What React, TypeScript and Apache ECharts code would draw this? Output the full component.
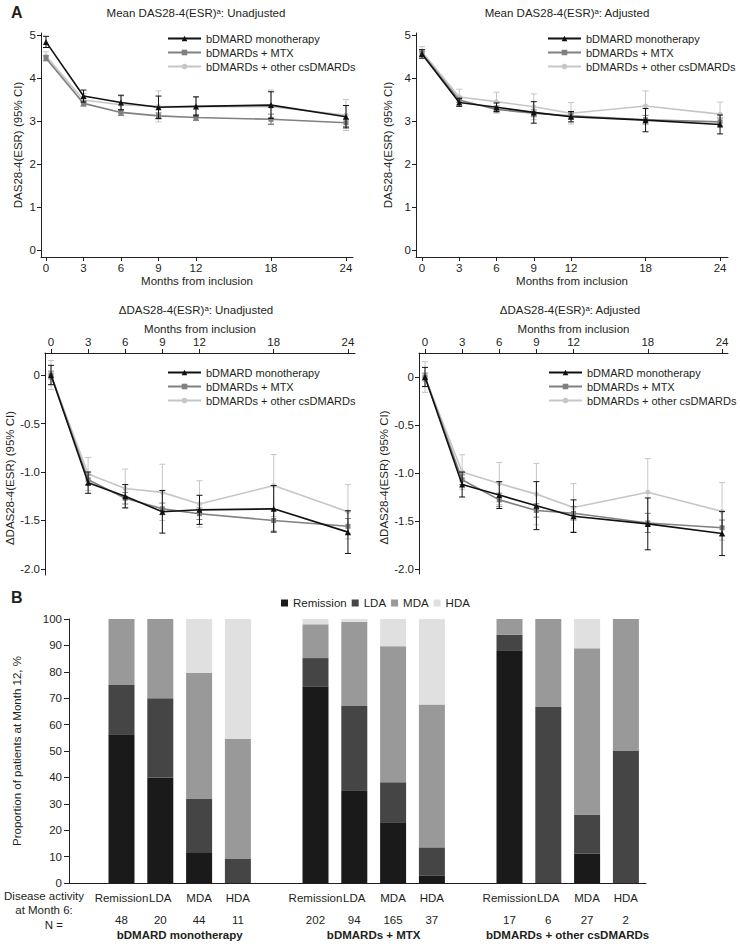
import React, { useEffect, useRef } from "react";
import * as echarts from "echarts";

const FONT = '"Liberation Sans", Arial, Helvetica, sans-serif';
const TXT = "#231f20";

const months = [0, 3, 6, 9, 12, 18, 24];
const seriesNames = ["bDMARD monotherapy", "bDMARDs + MTX", "bDMARDs + other csDMARDs"];

// Mean DAS28-4(ESR), unadjusted
const meanUnadjMono = [4.84, 3.58, 3.43, 3.32, 3.34, 3.37, 3.1];
const meanUnadjMtx = [4.46, 3.41, 3.2, 3.12, 3.08, 3.04, 2.96];
const meanUnadjOther = [4.51, 3.49, 3.38, 3.34, 3.33, 3.33, 3.14];
const ciUnadjMono = [0.13, 0.14, 0.17, 0.26, 0.22, 0.31, 0.26];
const ciUnadjMtx = [0.06, 0.06, 0.07, 0.07, 0.07, 0.12, 0.09];
const ciUnadjOther = [0.1, 0.15, 0.2, 0.36, 0.24, 0.39, 0.36];

// Mean DAS28-4(ESR), adjusted
const meanAdjMono = [4.56, 3.43, 3.32, 3.2, 3.1, 3.02, 2.92];
const meanAdjMtx = [4.57, 3.49, 3.27, 3.18, 3.12, 3.03, 2.98];
const meanAdjOther = [4.61, 3.56, 3.45, 3.33, 3.18, 3.35, 3.16];
const ciAdjMono = [0.1, 0.09, 0.1, 0.25, 0.12, 0.27, 0.22];
const ciAdjMtx = [0.06, 0.06, 0.08, 0.08, 0.07, 0.1, 0.09];
const ciAdjOther = [0.12, 0.18, 0.22, 0.3, 0.25, 0.35, 0.28];

// ΔDAS28-4(ESR), unadjusted
const dUnadjMono = [0, -1.11, -1.25, -1.41, -1.39, -1.38, -1.62];
const dUnadjMtx = [0, -1.08, -1.27, -1.38, -1.43, -1.5, -1.56];
const dUnadjOther = [0, -1.02, -1.17, -1.21, -1.33, -1.14, -1.41];
const dciUnadjMono = [0.1, 0.11, 0.12, 0.22, 0.15, 0.24, 0.22];
const dciUnadjMtx = [0.04, 0.05, 0.06, 0.06, 0.06, 0.11, 0.08];
const dciUnadjOther = [0.15, 0.17, 0.2, 0.29, 0.24, 0.32, 0.28];

// ΔDAS28-4(ESR), adjusted
const dAdjMono = [0, -1.12, -1.23, -1.34, -1.45, -1.53, -1.63];
const dAdjMtx = [0, -1.07, -1.28, -1.39, -1.42, -1.52, -1.57];
const dAdjOther = [0, -0.99, -1.11, -1.22, -1.36, -1.2, -1.4];
const dciAdjMono = [0.1, 0.13, 0.14, 0.25, 0.17, 0.27, 0.23];
const dciAdjMtx = [0.04, 0.05, 0.07, 0.07, 0.07, 0.1, 0.08];
const dciAdjOther = [0.16, 0.18, 0.22, 0.32, 0.25, 0.35, 0.3];

// Panel B (slots: 4 bars, gap, 4 bars, gap, 4 bars)
const barSlots = ["Remission", "LDA", "MDA", "HDA", "", "Remission", "LDA", "MDA", "HDA", "", "Remission", "LDA", "MDA", "HDA"];
const barPositions = [0, 1, 2, 3, 5, 6, 7, 8, 10, 11, 12, 13];
const barN = [48, 20, 44, 11, 202, 94, 165, 37, 17, 6, 27, 2];
const remission = [56.3, 40.0, 11.4, 0, 74.3, 35.1, 23.0, 2.7, 88.2, 0, 11.1, 0];
const lda = [18.7, 30.0, 20.4, 9.1, 10.9, 31.9, 15.2, 10.8, 5.9, 66.7, 14.8, 50];
const mda = [25.0, 30.0, 47.7, 45.4, 12.8, 31.9, 51.5, 54.1, 5.9, 33.3, 63.0, 50];
const hda = [0, 0, 20.5, 45.5, 2.0, 1.1, 10.3, 32.4, 0, 0, 11.1, 0];
const groupPositions = [1.5, 6.5, 11.5];
const groupNames = ["bDMARD monotherapy", "bDMARDs + MTX", "bDMARDs + other csDMARDs"];
const activityNames = ["Remission", "LDA", "MDA", "HDA"];

const lineColors = ["#111111", "#808080", "#c6c6c6"];
const symbols = ["triangle", "rect", "circle"];
const symbolSizes = [6, 5, 5];
const barColors = ["#1a1a1a", "#454545", "#999999", "#e0e0e0"];

export default function App() {
  const ref = useRef<HTMLDivElement>(null);
  useEffect(() => {
    if (!ref.current) return;
    const chart = echarts.init(ref.current, undefined, { renderer: "svg" });

    const grids = [
      { left: 41, top: 33, width: 312, height: 224 },
      { left: 416, top: 33, width: 312, height: 224 },
      { left: 45, top: 353, width: 310, height: 222 },
      { left: 419, top: 353, width: 309, height: 221 },
      { left: 69, top: 619, width: 577, height: 264 },
      { left: 102.1, top: 619, width: 543.2, height: 264 },
    ];
    const xRanges = [
      [-0.4, 24.56],
      [-0.483, 24.64],
      [-0.485, 24.57],
      [-0.485, 24.48],
    ];
    const yRanges = [
      [-0.163, 5.047],
      [-0.163, 5.047],
      [-2.062, 0.227],
      [-2.052, 0.25],
    ];
    const yNameGap = [17, 22, 25, 26];

    const axisLine = { onZero: false, lineStyle: { color: TXT, width: 1 } };
    const labelStyle = { color: TXT, fontSize: 11.5, fontFamily: FONT };

    const xAxes: any[] = [];
    const yAxes: any[] = [];
    for (let i = 0; i < 4; i++) {
      const bottom = i < 2;
      xAxes.push({
        type: "value",
        gridIndex: i,
        position: bottom ? "bottom" : "top",
        min: xRanges[i][0],
        max: xRanges[i][1],
        name: "Months from inclusion",
        nameLocation: "middle",
        nameGap: 18,
        nameTextStyle: { ...labelStyle },
        axisLine,
        axisTick: { customValues: months, length: 4, lineStyle: { color: TXT } },
        axisLabel: { customValues: months, margin: 5, ...labelStyle },
        splitLine: { show: false },
      });
      const yVals = bottom ? [0, 1, 2, 3, 4, 5] : [0, -0.5, -1, -1.5, -2];
      yAxes.push({
        type: "value",
        gridIndex: i,
        min: yRanges[i][0],
        max: yRanges[i][1],
        name: bottom ? "DAS28-4(ESR) (95% CI)" : "\u0394DAS28-4(ESR) (95% CI)",
        nameLocation: "middle",
        nameGap: yNameGap[i],
        nameTextStyle: { ...labelStyle, padding: bottom ? 0 : [0, 28, 0, 0] },
        axisLine,
        axisTick: { customValues: yVals, length: 4, lineStyle: { color: TXT } },
        axisLabel: {
          customValues: yVals,
          margin: 5,
          ...labelStyle,
          formatter: (v: number) => (bottom ? String(v) : v === 0 ? "0" : v.toFixed(1)),
        },
        splitLine: { show: false },
      });
    }
    // Panel B frame axes (grid 4): axis lines and label rows
    const bx = { min: -1.353, max: 13.52, type: "value", gridIndex: 4 };
    xAxes.push({
      ...bx,
      axisLine,
      axisTick: { show: false },
      axisLabel: {
        customValues: barPositions,
        margin: 9,
        ...labelStyle,
        formatter: (v: number) => barSlots[Math.round(v)] || "",
      },
      splitLine: { show: false },
    });
    xAxes.push({
      ...bx,
      position: "bottom",
      offset: 22,
      axisLine: { show: false },
      axisTick: { show: false },
      axisLabel: {
        customValues: barPositions,
        margin: 9,
        ...labelStyle,
        formatter: (v: number) => String(barN[barPositions.indexOf(Math.round(v))] ?? ""),
      },
      splitLine: { show: false },
    });
    xAxes.push({
      ...bx,
      position: "bottom",
      offset: 37,
      axisLine: { show: false },
      axisTick: { show: false },
      axisLabel: {
        customValues: groupPositions,
        margin: 9,
        ...labelStyle,
        fontWeight: "bold",
        formatter: (v: number) => groupNames[groupPositions.indexOf(v)] || "",
      },
      splitLine: { show: false },
    });
    yAxes.push({
      type: "value",
      gridIndex: 4,
      min: 0,
      max: 100,
      interval: 10,
      name: "Proportion of patients at Month 12, %",
      nameLocation: "middle",
      nameGap: 46,
      nameTextStyle: { ...labelStyle },
      axisLine,
      axisTick: { length: 5, lineStyle: { color: TXT } },
      axisLabel: { margin: 7, ...labelStyle },
      splitLine: { show: false },
    });
    // Panel B bar axes (grid 5): hidden category axis
    const barXIndex = xAxes.length;
    xAxes.push({
      type: "category",
      gridIndex: 5,
      data: barSlots,
      show: false,
    });
    const barYIndex = yAxes.length;
    yAxes.push({
      type: "value",
      gridIndex: 5,
      min: 0,
      max: 100,
      show: false,
    });

    const panels = [
      { vals: [meanUnadjMono, meanUnadjMtx, meanUnadjOther], cis: [ciUnadjMono, ciUnadjMtx, ciUnadjOther] },
      { vals: [meanAdjMono, meanAdjMtx, meanAdjOther], cis: [ciAdjMono, ciAdjMtx, ciAdjOther] },
      { vals: [dUnadjMono, dUnadjMtx, dUnadjOther], cis: [dciUnadjMono, dciUnadjMtx, dciUnadjOther] },
      { vals: [dAdjMono, dAdjMtx, dAdjOther], cis: [dciAdjMono, dciAdjMtx, dciAdjOther] },
    ];

    const series: any[] = [];
    panels.forEach((p, pi) => {
      for (let s = 2; s >= 0; s--) {
        const color = lineColors[s];
        const z = 3 + (2 - s) * 2;
        series.push({
          type: "custom",
          name: "ci" + pi + "_" + s,
          xAxisIndex: pi,
          yAxisIndex: pi,
          z,
          encode: { x: 0, y: [1, 2] },
          data: months.map((m, i) => [m, p.vals[s][i] - p.cis[s][i], p.vals[s][i] + p.cis[s][i]]),
          renderItem: (params: any, api: any) => {
            const x = api.value(0);
            const lo = api.coord([x, api.value(1)]);
            const hi = api.coord([x, api.value(2)]);
            const w = 3;
            const st = { stroke: color, lineWidth: 1 };
            return {
              type: "group",
              children: [
                { type: "line", shape: { x1: lo[0], y1: lo[1], x2: hi[0], y2: hi[1] }, style: st },
                { type: "line", shape: { x1: lo[0] - w, y1: lo[1], x2: lo[0] + w, y2: lo[1] }, style: st },
                { type: "line", shape: { x1: hi[0] - w, y1: hi[1], x2: hi[0] + w, y2: hi[1] }, style: st },
              ],
            };
          },
        });
        series.push({
          type: "line",
          name: seriesNames[s],
          xAxisIndex: pi,
          yAxisIndex: pi,
          z: z + 1,
          data: months.map((m, i) => [m, p.vals[s][i]]),
          symbol: symbols[s],
          symbolSize: symbolSizes[s],
          showSymbol: true,
          itemStyle: { color },
          lineStyle: { color, width: 1.6 },
        });
      }
    });

    const barData = [remission, lda, mda, hda];
    activityNames.forEach((n, k) => {
      const arr: any[] = barSlots.map(() => "-");
      barPositions.forEach((pos, i) => {
        arr[pos] = barData[k][i];
      });
      series.push({
        type: "bar",
        name: n,
        xAxisIndex: barXIndex,
        yAxisIndex: barYIndex,
        stack: "b",
        barWidth: 26,
        itemStyle: { color: barColors[k] },
        data: arr,
      });
    });

    const legendPos = [
      { left: 167, top: 32 },
      { left: 547, top: 32 },
      { left: 167, top: 366 },
      { left: 548, top: 366 },
    ];
    const legends: any[] = legendPos.map((lp) => ({
      ...lp,
      orient: "vertical",
      itemWidth: 33,
      itemHeight: 7,
      itemGap: 1,
      padding: 0,
      textStyle: { ...labelStyle, fontSize: 11, lineHeight: 13 },
      data: seriesNames,
    }));
    legends.push({
      left: 281,
      top: 597,
      orient: "horizontal",
      icon: "rect",
      itemWidth: 7,
      itemHeight: 7,
      itemGap: 5,
      padding: 0,
      textStyle: { ...labelStyle },
      data: activityNames,
    });

    const txt = (x: number, y: number, text: string, extra: any = {}) => ({
      type: "text",
      x,
      y,
      style: {
        text,
        fill: TXT,
        fontSize: 11.5,
        fontFamily: FONT,
        align: "center",
        verticalAlign: "middle",
        ...extra,
      },
    });

    chart.setOption({
      animation: false,
      backgroundColor: "#ffffff",
      grid: grids,
      xAxis: xAxes,
      yAxis: yAxes,
      legend: legends,
      series,
      graphic: [
        txt(11, 12, "A", { fontSize: 16, fontWeight: "bold", align: "left" }),
        txt(11, 597, "B", { fontSize: 16, fontWeight: "bold", align: "left" }),
        txt(196, 13, "Mean DAS28-4(ESR)\u1d43: Unadjusted"),
        txt(567, 13, "Mean DAS28-4(ESR)\u1d43: Adjusted"),
        txt(196, 310, "\u0394DAS28-4(ESR)\u1d43: Unadjusted"),
        txt(570, 310, "\u0394DAS28-4(ESR)\u1d43: Adjusted"),
        txt(44, 896, "Disease activity"),
        txt(44, 910, "at Month 6:"),
        txt(63, 925, "N =", { align: "right" }),
      ],
    });
    return () => chart.dispose();
  }, []);
  return (
    <div
      ref={ref}
      style={{ position: "absolute", left: 0, top: 0, width: 740, height: 949, background: "#fff" }}
    />
  );
}
